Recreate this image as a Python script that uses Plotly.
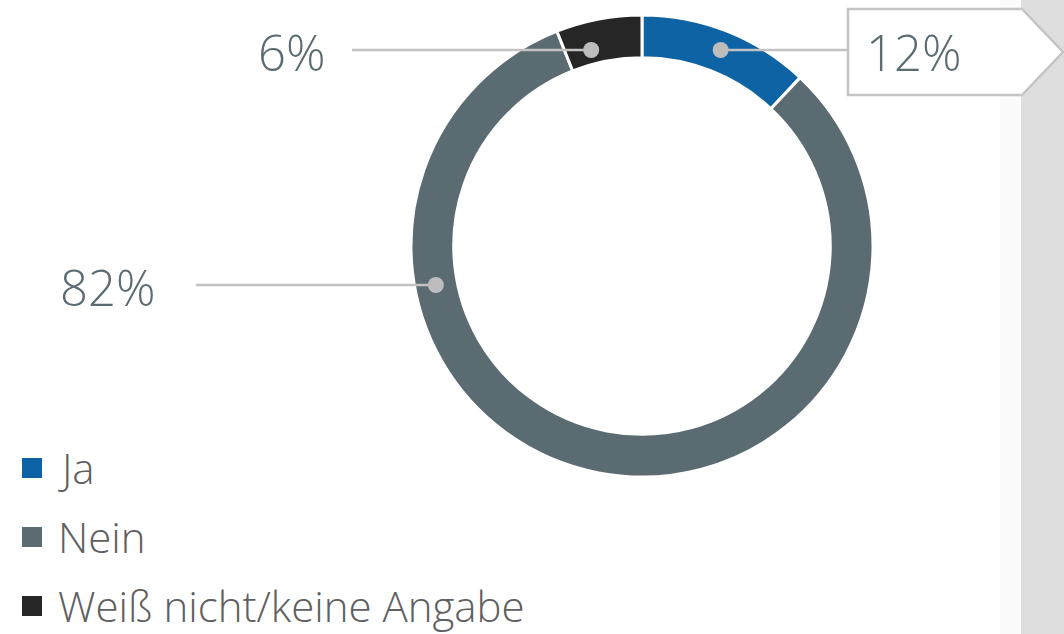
import math
import plotly.graph_objects as go

labels = ["Ja", "Nein", "Weiß nicht/keine Angabe"]
values = [12, 82, 6]
colors = ["#0e63a4", "#5b6b72", "#262626"]

W, H = 1064, 634
cx, cy, r_out = 642, 246, 231
r_mid = 210
# where the leader dots sit on the ring (degrees clockwise from top) and label settings
dot_angle = [22, 259, 346]
label_y = [50, 285, 50]
label_x = [848, 196, 352]   # end of leader line
text_x = [864, 158, 328]
text_anchor = ["left", "right", "right"]

label_color = "#5b6b72"
lead_color = "#c2c2c2"

fig = go.Figure()

fig.add_trace(go.Pie(
    labels=labels,
    values=values,
    hole=0.815,
    sort=False,
    direction="clockwise",
    rotation=0,
    marker=dict(colors=colors, line=dict(color="white", width=3)),
    textinfo="none",
    hoverinfo="label+percent",
    showlegend=False,
    domain=dict(x=[(cx - r_out) / W, (cx + r_out) / W],
                y=[1 - (cy + r_out) / H, 1 - (cy - r_out) / H]),
))

# invisible pixel axes for overlays
fig.add_trace(go.Scatter(x=[0, W], y=[0, H], mode="markers",
                         marker=dict(opacity=0), hoverinfo="skip", showlegend=False))

# right gray strip with a soft edge
fig.add_shape(type="rect", x0=1000, x1=1021, y0=0, y1=H, xref="x", yref="y",
              fillcolor="#fbfbfb", line_width=0, layer="below")
fig.add_shape(type="rect", x0=1021, x1=W, y0=0, y1=H, xref="x", yref="y",
              fillcolor="#dedede", line_width=0, layer="below")

# tag box for "Ja"
fig.add_shape(type="path", xref="x", yref="y",
              path="M 848 9 L 1022 9 L 1063 52 L 1022 95 L 848 95 Z",
              fillcolor="white", line=dict(color="#c4c4c4", width=2.5), layer="above")

for i, v in enumerate(values):
    a = math.radians(dot_angle[i])
    dx = cx + r_mid * math.sin(a)
    ly = label_y[i]
    fig.add_shape(type="line", xref="x", yref="y", x0=label_x[i], x1=dx, y0=ly, y1=ly,
                  line=dict(color=lead_color, width=2.5), layer="above")
    fig.add_shape(type="circle", xref="x", yref="y", x0=dx - 8, x1=dx + 8, y0=ly - 8, y1=ly + 8,
                  fillcolor="#bdbdbd", line_width=0, layer="above")
    fig.add_annotation(x=text_x[i], y=ly + 2, xref="x", yref="y", text=f"{v}%",
                       showarrow=False, xanchor=text_anchor[i], yanchor="middle",
                       font=dict(family="Open Sans", size=49, color=label_color, weight=300))

# legend
for i, lab in enumerate(labels):
    yy = 468 + i * 69
    fig.add_shape(type="rect", xref="x", yref="y", x0=22, x1=42, y0=yy - 10, y1=yy + 10,
                  fillcolor=colors[i], line_width=0)
    fig.add_annotation(x=56, y=yy - 1, xref="x", yref="y", text=lab, showarrow=False,
                       xanchor="left", yanchor="middle",
                       font=dict(family="Open Sans", size=42, color="#606060", weight=300))

fig.update_xaxes(range=[0, W], visible=False, fixedrange=True)
fig.update_yaxes(range=[H, 0], visible=False, fixedrange=True)
fig.update_layout(
    width=W, height=H,
    margin=dict(l=0, r=0, t=0, b=0),
    paper_bgcolor="white", plot_bgcolor="rgba(0,0,0,0)",
    showlegend=False,
)

fig.write_html("out.html", config={"displayModeBar": False},
               post_script="document.body.style.margin='0';")
